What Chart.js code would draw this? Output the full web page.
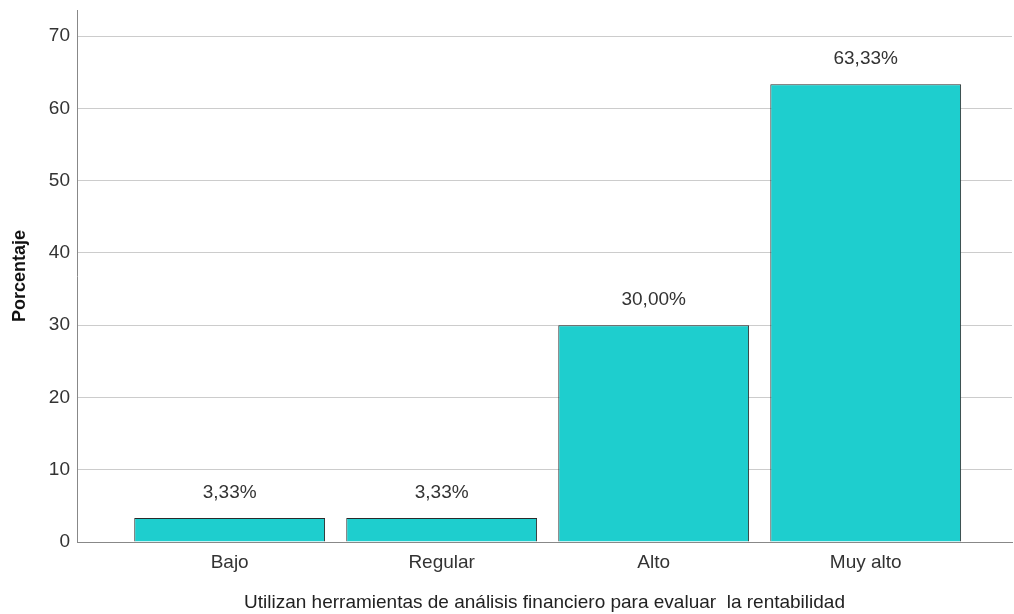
<!DOCTYPE html>
<html>
<head>
<meta charset="utf-8">
<script src="https://cdn.jsdelivr.net/npm/chart.js@4/dist/chart.umd.min.js"></script>
<style>
  html, body { margin: 0; padding: 0; background: #fff; }
  #wrap { width: 1014px; height: 614px; }
</style>
</head>
<body>
<div id="wrap"><canvas id="chart"></canvas></div>
<script>
// datos
const categorias = ["Bajo", "Regular", "Alto", "Muy alto"];
const porcentajes = [3.33, 3.33, 30.00, 63.33];
const ticksY = [0, 10, 20, 30, 40, 50, 60, 70];

const FONT = "'Liberation Sans Narrow', 'Liberation Sans', Arial, sans-serif";

const etiquetas = {
  id: "etiquetas",
  afterDatasetsDraw(chart) {
    const { ctx } = chart;
    const meta = chart.getDatasetMeta(0);
    ctx.save();
    ctx.font = "19px " + FONT;
    ctx.fillStyle = "#333";
    ctx.textAlign = "center";
    ctx.textBaseline = "middle";
    meta.data.forEach((bar, i) => {
      const txt = porcentajes[i].toFixed(2).replace(".", ",") + "%";
      ctx.fillText(txt, bar.x, bar.y - 25);
    });
    ctx.restore();
  }
};

new Chart(document.getElementById("chart"), {
  type: "bar",
  data: {
    datasets: [{
      data: porcentajes.map((v, i) => ({ x: i, y: v })),
      backgroundColor: "#1ecece",
      borderColor: "#2a2a2a",
      borderWidth: 1,
      categoryPercentage: 1,
      barPercentage: 0.9
    }]
  },
  options: {
    responsive: true,
    maintainAspectRatio: false,
    animation: false,
    layout: { padding: { top: 10, right: 2, left: 0, bottom: 0 } },
    plugins: { legend: { display: false }, tooltip: { enabled: false } },
    scales: {
      x: {
        type: "linear",
        offset: false,
        min: -0.72,
        max: 3.69,
        afterBuildTicks: s => { s.ticks = categorias.map((c, i) => ({ value: i })); },
        afterFit: s => { s.height = 72; s.paddingLeft = 0; s.paddingRight = 0; },
        ticks: {
          callback: v => categorias[v],
          font: { family: FONT, size: 19 },
          color: "#333",
          padding: 9
        },
        grid: { display: false, drawTicks: false, offset: false },
        border: { color: "#888", width: 1 },
        title: {
          display: true,
          text: "Utilizan herramientas de análisis financiero para evaluar  la rentabilidad",
          font: { family: FONT, size: 19 },
          color: "#222",
          padding: { top: 0, bottom: 0 }
        }
      },
      y: {
        min: 0,
        max: 73.6,
        afterBuildTicks: s => { s.ticks = ticksY.map(v => ({ value: v })); },
        afterFit: s => { s.width = 77; s.paddingTop = 0; s.paddingBottom = 0; },
        ticks: {
          font: { family: FONT, size: 19 },
          color: "#333",
          padding: 7
        },
        grid: { color: "#cccccc", lineWidth: 1, drawTicks: false },
        border: { color: "#888", width: 1 },
        title: {
          display: true,
          text: "Porcentaje",
          font: { family: "'Liberation Sans', Arial, sans-serif", size: 18, weight: "bold" },
          color: "#111",
          padding: { top: 9, bottom: 0 }
        }
      }
    }
  },
  plugins: [etiquetas]
});
</script>
</body>
</html>
